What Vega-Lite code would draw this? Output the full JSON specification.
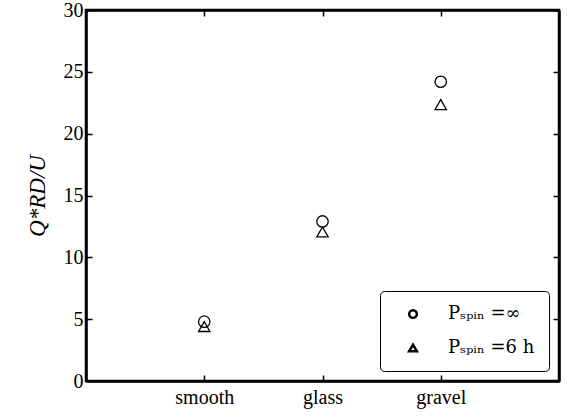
{
  "$schema": "https://vega.github.io/schema/vega-lite/v6.json",
  "width": 473,
  "height": 371,
  "autosize": {"type": "none"},
  "padding": {"left": 86, "top": 10, "right": 10, "bottom": 37},
  "background": "white",
  "config": {
    "font": "Liberation Serif",
    "view": {"stroke": "black", "strokeWidth": 2.5},
    "axis": {"domain": true, "domainColor": "black", "domainWidth": 2.5, "grid": false, "tickColor": "black", "tickWidth": 1.5, "tickSize": -6, "labelColor": "black", "labelFontSize": 20, "labelFont": "Liberation Serif", "titleColor": "black"}
  },
  "data": {
    "values": [
      {"surface": "smooth", "spin": "inf", "q": 4.8},
      {"surface": "smooth", "spin": "6h", "q": 4.4},
      {"surface": "glass", "spin": "inf", "q": 12.9},
      {"surface": "glass", "spin": "6h", "q": 12.05},
      {"surface": "gravel", "spin": "inf", "q": 24.2},
      {"surface": "gravel", "spin": "6h", "q": 22.35}
    ]
  },
  "layer": [
    {
      "mark": {"type": "point", "filled": false, "stroke": "black", "strokeWidth": 1.3, "size": 130, "opacity": 1},
      "encoding": {
        "x": {"field": "surface", "type": "nominal", "sort": ["smooth", "glass", "gravel"], "scale": {"type": "point", "padding": 1},
              "axis": {"orient": "bottom", "title": null, "labelAngle": 0, "labelPadding": 12}},
        "y": {"field": "q", "type": "quantitative", "scale": {"domain": [0, 30], "nice": false, "zero": true},
              "axis": {"orient": "left", "values": [0, 5, 10, 15, 20, 25, 30], "labelPadding": 9, "title": "Q*RD/U", "titleFont": "Liberation Serif", "titleFontStyle": "italic", "titleFontWeight": "normal", "titleFontSize": 23, "titlePadding": 14}},
        "shape": {"field": "spin", "type": "nominal", "scale": {"domain": ["inf", "6h"], "range": ["circle", "triangle-up"]},
                  "legend": {"orient": "bottom-right", "title": null, "offset": 10, "strokeColor": "black", "cornerRadius": 4, "padding": 14,
                             "fillColor": "white", "labelExpr": "datum.value == 'inf' ? 'Pₛₚᵢₙ =∞' : 'Pₛₚᵢₙ =6 h'",
                             "labelFontSize": 18, "labelFont": "DejaVu Serif", "labelColor": "black", "labelOffset": 26,
                             "symbolSize": 60, "symbolStrokeWidth": 2.5, "symbolStrokeColor": "black", "symbolFillColor": "transparent",
                             "rowPadding": 16, "symbolOffset": 10}}
      }
    },
    {
      "mark": {"type": "point", "opacity": 0},
      "encoding": {
        "x": {"field": "surface", "type": "nominal", "sort": ["smooth", "glass", "gravel"], "axis": {"orient": "top", "title": null, "labels": false}},
        "y": {"field": "q", "type": "quantitative", "axis": {"orient": "right", "values": [0, 5, 10, 15, 20, 25, 30], "title": null, "labels": false}}
      }
    }
  ],
  "resolve": {"axis": {"x": "independent", "y": "independent"}}
}
